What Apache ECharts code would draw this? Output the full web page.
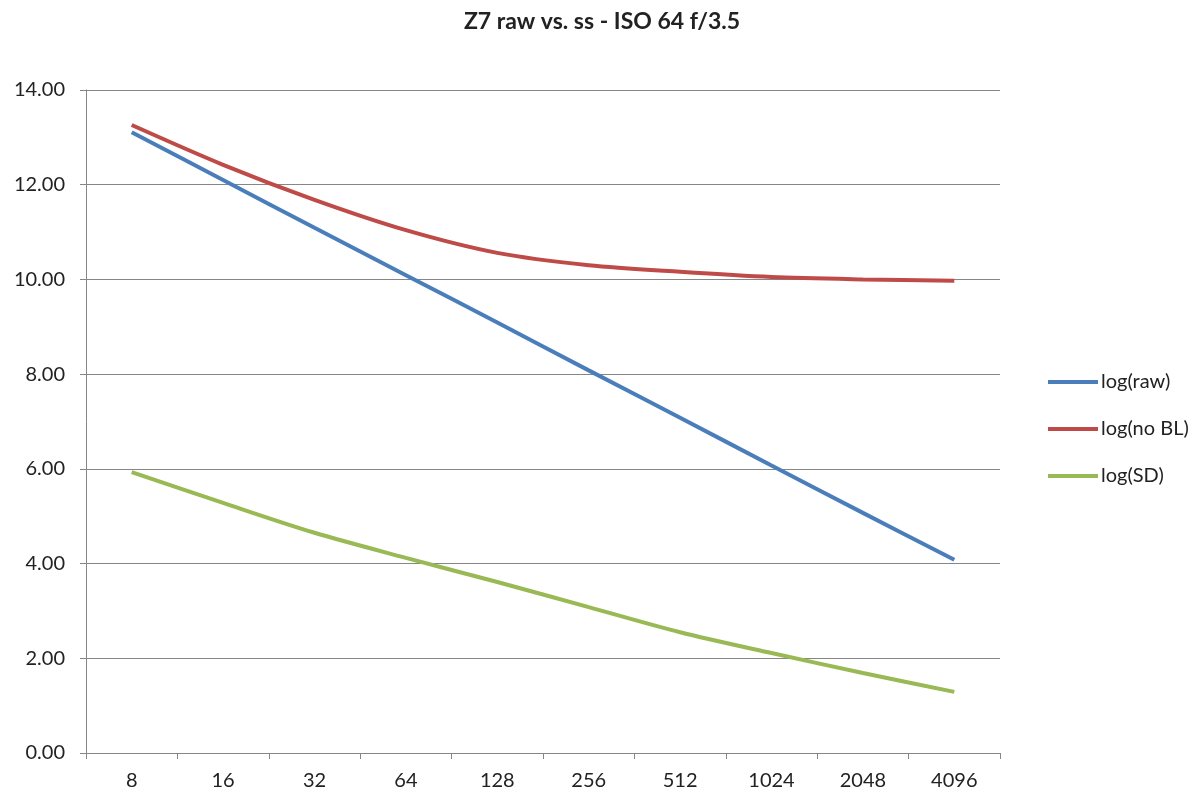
<!DOCTYPE html>
<html>
<head>
<meta charset="utf-8">
<script src="https://cdn.jsdelivr.net/npm/echarts@6/dist/echarts.min.js"></script>
<style>
html,body{margin:0;padding:0;background:#fff;}
#c{width:1204px;height:798px;}
</style>
</head>
<body>
<div id="c"></div>
<script>
const categories = ['8','16','32','64','128','256','512','1024','2048','4096'];
const logRaw = [13.11, 12.10, 11.09, 10.09, 9.09, 8.08, 7.08, 6.07, 5.07, 4.08];
const logNoBL = [13.26, 12.42, 11.68, 11.04, 10.56, 10.30, 10.16, 10.05, 10.00, 9.97];
const logSD = [5.93, 5.28, 4.65, 4.12, 3.61, 3.08, 2.55, 2.11, 1.69, 1.29];
const yTicks = {min: 0, max: 14, interval: 2};

const FONT = 'Lato, "Open Sans", sans-serif';
const chart = echarts.init(document.getElementById('c'), null, {renderer: 'canvas'});
function mk(name, data, color) {
  return {
    name: name, type: 'line', data: data, smooth: 0.3, symbol: 'none',
    lineStyle: {color: color, width: 4}, itemStyle: {color: color},
    animation: false
  };
}
chart.setOption({
  animation: false,
  backgroundColor: '#ffffff',
  title: {
    text: 'Z7 raw vs. ss - ISO 64 f/3.5',
    left: 'center', top: 5,
    textStyle: {fontFamily: FONT, fontWeight: 'bold', fontSize: 23, color: '#222'}
  },
  grid: {left: 86, right: 204, top: 90, bottom: 45, containLabel: false},
  legend: {
    orient: 'vertical', left: 1043, top: 367,
    itemWidth: 50, itemHeight: 4, itemGap: 27, icon: 'rect',
    textStyle: {fontFamily: FONT, fontSize: 20, color: '#222', padding: [0,0,0,-2]},
    data: ['log(raw)', 'log(no BL)', 'log(SD)']
  },
  xAxis: {
    type: 'category', data: categories, boundaryGap: true,
    axisLine: {lineStyle: {color: '#868686', width: 1}},
    axisTick: {show: true, length: 6, alignWithLabel: false, lineStyle: {color: '#868686'}},
    axisLabel: {fontFamily: FONT, fontSize: 20, color: '#222', margin: 18}
  },
  yAxis: {
    type: 'value', min: yTicks.min, max: yTicks.max, interval: yTicks.interval,
    axisLine: {show: true, lineStyle: {color: '#868686', width: 1}},
    axisTick: {show: true, length: 6, lineStyle: {color: '#868686'}},
    splitLine: {show: true, lineStyle: {color: '#868686', width: 1}},
    axisLabel: {fontFamily: FONT, fontSize: 20, color: '#222', margin: 21,
      formatter: v => v.toFixed(2)}
  },
  series: [
    mk('log(raw)', logRaw, '#4a7ebb'),
    mk('log(no BL)', logNoBL, '#be4b48'),
    mk('log(SD)', logSD, '#98b954')
  ]
});
</script>
</body>
</html>
